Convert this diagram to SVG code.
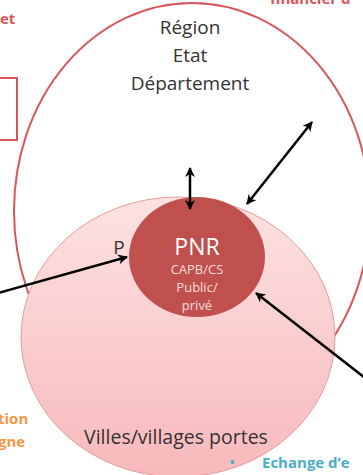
<svg xmlns="http://www.w3.org/2000/svg" width="363" height="475" viewBox="0 0 363 475">
<defs>
<style>
.lbl{font-family:"Open Sans","Liberation Sans",sans-serif;fill:#333;text-anchor:middle}
.in{font-family:"Open Sans","Liberation Sans",sans-serif;fill:#f6dede;text-anchor:middle}
.arr{stroke:#000;stroke-width:2.5;fill:none}
.side{font-family:"Open Sans","Liberation Sans",sans-serif;font-weight:bold}
</style>
<linearGradient id="pg" x1="0" y1="0" x2="0" y2="1">
<stop offset="0" stop-color="#fde2e2"/>
<stop offset="1" stop-color="#f8b9bc"/>
</linearGradient>
<marker id="ah" viewBox="0 0 10 10" refX="9" refY="5" markerWidth="4" markerHeight="4" orient="auto-start-reverse">
<path d="M0,0 L10,5 L0,10 L3,5 z" fill="#000"/>
</marker>
</defs>
<rect width="363" height="475" fill="#fff"/>
<g id="region">
<ellipse cx="192" cy="211" rx="178" ry="208" fill="#fff" stroke="#d9575a" stroke-width="2"/>
<text class="lbl" x="190" y="34" font-size="19">Région</text>
<text class="lbl" x="190" y="62" font-size="19">Etat</text>
<text class="lbl" x="190" y="90" font-size="19">Département</text>
</g>
<g id="villes">
<ellipse cx="178" cy="337" rx="157" ry="140" fill="url(#pg)" stroke="#e69a9c" stroke-width="1"/>
<text class="lbl" x="119" y="254" font-size="19">P</text>
<text class="lbl" x="176" y="444" font-size="19.5">Villes/villages portes</text>
</g>
<g id="pnr">
<ellipse cx="197" cy="257" rx="68" ry="60" fill="#c0504d"/>
<text class="in" x="197" y="255" font-size="23" style="fill:#fff">PNR</text>
<text class="in" x="197" y="274" font-size="13">CAPB/CS</text>
<text class="in" x="197" y="292" font-size="13">Public/</text>
<text class="in" x="197" y="310" font-size="13">privé</text>
</g>
<g id="side">
<rect x="-5" y="78" width="22" height="62" fill="none" stroke="#d9575a" stroke-width="2"/>
<text class="side" x="0" y="24" font-size="15" fill="#d9575a">et</text>
<text class="side" x="270" y="4" font-size="15" fill="#d9575a">financier d</text>
<text class="side" x="-2" y="424" font-size="15" fill="#f79646">tion</text>
<text class="side" x="-2" y="447" font-size="15" fill="#f79646">gne</text>
<text class="side" x="230" y="467" font-size="12" fill="#4bacc6">•</text>
<text class="side" x="262" y="468" font-size="15" fill="#4bacc6">Echange d’e</text>
</g>
<g id="connectors">
<line class="arr" x1="190" y1="168" x2="190" y2="209" marker-start="url(#ah)" marker-end="url(#ah)"/>
<line class="arr" x1="312" y1="122" x2="247" y2="204" marker-start="url(#ah)" marker-end="url(#ah)"/>
<line class="arr" x1="-2" y1="293" x2="127" y2="257" marker-end="url(#ah)"/>
<line class="arr" x1="365" y1="378" x2="256" y2="293" marker-end="url(#ah)"/>
</g>
</svg>
